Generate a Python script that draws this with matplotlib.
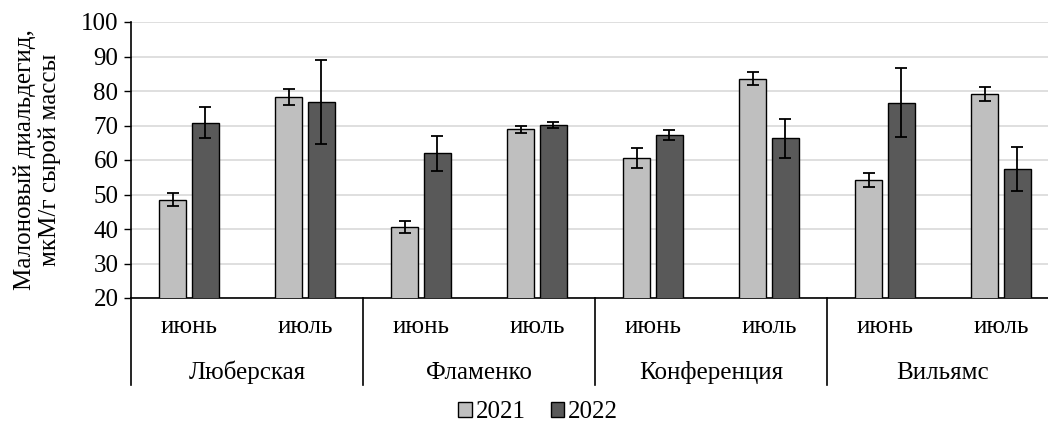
import matplotlib as mpl
mpl.use("Agg")
import matplotlib.pyplot as plt
import matplotlib.transforms as mtransforms
from matplotlib.patches import Patch
import numpy as np

mpl.rcParams.update({'font.family': 'Liberation Serif', 'font.size': 18})

groups = ["Люберская", "Фламенко", "Конференция", "Вильямс"]
months = ["июнь", "июль"]
years = ["2021", "2022"]

vals_2021 = [48.5, 78.2, 40.5, 68.9, 60.7, 83.6, 54.3, 79.2]
err_2021 = [1.9, 2.4, 1.7, 1.1, 2.9, 1.9, 2.0, 2.1]
vals_2022 = [70.8, 76.7, 61.9, 70.2, 67.3, 66.3, 76.6, 57.4]
err_2022 = [4.5, 12.2, 5.2, 0.8, 1.5, 5.7, 10.0, 6.3]

colors = ["#BFBFBF", "#595959"]

fig = plt.figure(figsize=(10.48, 4.29), dpi=100)
ax = fig.add_axes([131 / 1048, 1 - 298 / 429, 928 / 1048, 276 / 429])

x = np.arange(len(vals_2021))
w = 0.228
off = 0.142
ekw = dict(elinewidth=1.3, capthick=1.3, ecolor="black")
ax.bar(x - off, vals_2021, w, bottom=0, color=colors[0], edgecolor="black",
       linewidth=1.0, yerr=err_2021, capsize=4.3, error_kw=ekw, zorder=3)
ax.bar(x + off, vals_2022, w, bottom=0, color=colors[1], edgecolor="black",
       linewidth=1.0, yerr=err_2022, capsize=4.3, error_kw=ekw, zorder=3)

ax.set_ylim(20, 100)
ax.set_xlim(-0.5, len(x) - 0.5)
ax.set_yticks(np.arange(20, 101, 10))
ax.yaxis.grid(True, color="#D9D9D9", linewidth=1.2, zorder=0)
ax.set_axisbelow(True)
ax.set_xticks([])
ax.tick_params(axis="y", direction="out", length=5, width=1, pad=4)
for s in ["top", "right"]:
    ax.spines[s].set_visible(False)
ax.spines["left"].set_linewidth(1.2)
ax.spines["bottom"].set_linewidth(1.2)

trans = mtransforms.blended_transform_factory(ax.transData, ax.transAxes)
for i in range(len(x)):
    ax.text(i, -0.105, months[i % 2], transform=trans, ha="center", va="center")
for g, name in enumerate(groups):
    ax.text(2 * g + 0.5, -0.27, name, transform=trans, ha="center", va="center")
for g in range(len(groups) + 1):
    ax.plot([2 * g - 0.5, 2 * g - 0.5], [0, -0.315], transform=trans,
            color="black", linewidth=1.2, clip_on=False)

# y label: two centred lines, right edge at about x=64 px
fig.text(37 / 1048, 1 - 160 / 429, "Малоновый диальдегид,\nмкМ/г сырой массы",
         rotation=90, ha="center", va="center", multialignment="center",
         linespacing=1.15)

handles = [Patch(facecolor=c, edgecolor="black", linewidth=1.0) for c in colors]
fig.legend(handles, years, loc="center", bbox_to_anchor=(538 / 1048, 1 - 412 / 429),
           ncol=2, frameon=False, handlelength=0.55, handleheight=0.55,
           handletextpad=0.15, columnspacing=1.0, borderpad=0)

fig.savefig("out.png", dpi=100)
